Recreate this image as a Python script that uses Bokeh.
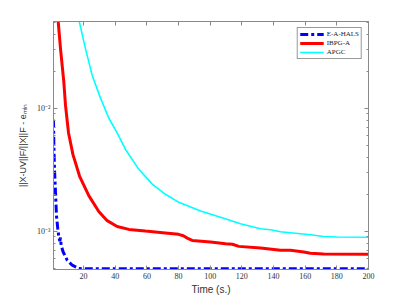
from bokeh.plotting import figure
from bokeh.models import Range1d, LinearAxis, LogAxis, FixedTicker, Legend, LegendItem
from bokeh.embed import file_html
from bokeh.resources import INLINE

# ---- data ----
hals_t = [1.0, 1.2, 1.63, 2.26, 2.9, 3.7, 4.35, 5.0, 5.4, 5.86, 7.1, 9.65, 12.8, 17.0, 20.1, 200.0]
hals_v = [8.08e-3, 5.27e-3, 3.19e-3, 2.08e-3, 1.33e-3, 1.05e-3, 9.03e-4, 8.3e-4, 8.9e-4,
          7.67e-4, 6.79e-4, 5.82e-4, 5.3e-4, 4.99e-4, 4.95e-4, 4.95e-4]

ibpg_t = [3.5, 3.97, 5.42, 7.5, 8.6, 10.5, 13.3, 17.5, 23.3, 29.6, 34.9, 41.2, 48.6, 59.1,
          70.0, 80.0, 83.0, 85.5, 88.6, 100.2, 109.7, 114.0, 118.1, 131.8, 144.4, 150.7,
          159.1, 163.3, 171.7, 200.0]
ibpg_v = [0.075, 0.0508, 0.0306, 0.01645, 0.0105, 6.3e-3, 4.2e-3, 2.8e-3, 1.95e-3, 1.45e-3,
          1.22e-3, 1.095e-3, 1.036e-3, 1.005e-3, 9.75e-4, 9.45e-4, 9.2e-4, 8.8e-4, 8.43e-4,
          8.18e-4, 7.93e-4, 7.85e-4, 7.54e-4, 7.32e-4, 7.0e-4, 7.0e-4, 6.79e-4, 6.62e-4,
          6.55e-4, 6.5e-4]

apgc_t = [16.0, 17.4, 21.2, 25.4, 30.7, 35.9, 41.2, 46.5, 54.9, 63.4, 71.75, 80.2, 89.6,
          93.9, 106.5, 119.1, 131.8, 138.1, 144.4, 150.7, 163.3, 171.7, 180.2, 200.0]
apgc_v = [0.06, 0.050, 0.0306, 0.0186, 0.0121, 8.34e-3, 6.31e-3, 4.63e-3, 3.19e-3, 2.42e-3,
          2.0e-3, 1.72e-3, 1.54e-3, 1.46e-3, 1.30e-3, 1.15e-3, 1.05e-3, 1.028e-3, 9.9e-4,
          9.72e-4, 9.37e-4, 9.08e-4, 8.98e-4, 8.95e-4]

x_ticks = [20, 40, 60, 80, 100, 120, 140, 160, 180, 200]
y_major = [1e-3, 1e-2]
y_labels = {1e-3: "10\u207b\u00b3", 1e-2: "10\u207b\u00b2"}
series_names = ["E-A-HALS", "IBPG-A", "APGC"]

# ---- figure ----
p = figure(width=399, height=297, y_axis_type="log",
           x_range=Range1d(1, 200), y_range=Range1d(4.89e-4, 0.0508),
           output_backend="svg", toolbar_location=None,
           min_border_left=53, min_border_right=31, min_border_top=21, min_border_bottom=26)
p.background_fill_color = "white"
p.border_fill_color = "white"
p.outline_line_color = "#8a8a8a"
p.xgrid.visible = False
p.ygrid.visible = False

minor = [k * 10.0 ** e for e in (-4, -3, -2) for k in range(2, 10)]
GRAY = "#8a8a8a"


def style(ax, labels=True):
    ax.axis_line_color = GRAY
    ax.major_tick_line_color = GRAY
    ax.minor_tick_line_color = GRAY
    ax.major_tick_in = 4
    ax.major_tick_out = 0
    ax.minor_tick_in = 2
    ax.minor_tick_out = 0
    ax.major_label_text_font = "Liberation Serif"
    ax.major_label_text_font_size = "8px"
    ax.major_label_text_color = "#333333"
    ax.major_label_standoff = 3
    if not labels:
        ax.major_label_text_font_size = "1px"
        ax.major_label_text_color = None
        ax.major_label_standoff = 0


xa = p.xaxis[0]
xa.ticker = FixedTicker(ticks=x_ticks)
style(xa)
xa.axis_label = "Time (s.)"
xa.axis_label_text_font = "Liberation Sans"
xa.axis_label_text_font_style = "normal"
xa.axis_label_text_font_size = "10px"
xa.axis_label_text_color = "#333333"
xa.axis_label_standoff = 2

ya = p.yaxis[0]
ya.ticker = FixedTicker(ticks=y_major, minor_ticks=minor)
ya.major_label_overrides = y_labels
style(ya)
ya.axis_label = "||X-UV||F/||X||F - e\u2098\u1d62\u2099"
ya.axis_label_text_font = "Liberation Sans"
ya.axis_label_text_font_style = "normal"
ya.axis_label_text_font_size = "9px"
ya.axis_label_text_color = "#333333"
ya.axis_label_standoff = 6

top = LinearAxis(ticker=FixedTicker(ticks=x_ticks))
style(top, labels=False)
p.add_layout(top, "above")
right = LogAxis(ticker=FixedTicker(ticks=y_major, minor_ticks=minor))
style(right, labels=False)
p.add_layout(right, "right")

r1 = p.line(hals_t, hals_v, line_color="#0000ff", line_width=3, line_dash="8 3 3 3")
r2 = p.line(ibpg_t, ibpg_v, line_color="#ff0000", line_width=3)
r3 = p.line(apgc_t, apgc_v, line_color="#00ffff", line_width=1.6)

legend = Legend(items=[LegendItem(label=series_names[0], renderers=[r1]),
                       LegendItem(label=series_names[1], renderers=[r2]),
                       LegendItem(label=series_names[2], renderers=[r3])],
                location="top_right")
legend.label_text_font = "Liberation Serif"
legend.label_text_font_size = "7px"
legend.label_text_color = "#222222"
legend.glyph_width = 24
legend.glyph_height = 8
legend.label_height = 8
legend.label_standoff = 3
legend.spacing = 1
legend.padding = 2
legend.margin = 6
legend.border_line_color = "#333333"
legend.border_line_width = 1
legend.background_fill_color = "white"
legend.background_fill_alpha = 1.0
p.add_layout(legend)

open("out.html", "w").write(file_html(p, INLINE))
